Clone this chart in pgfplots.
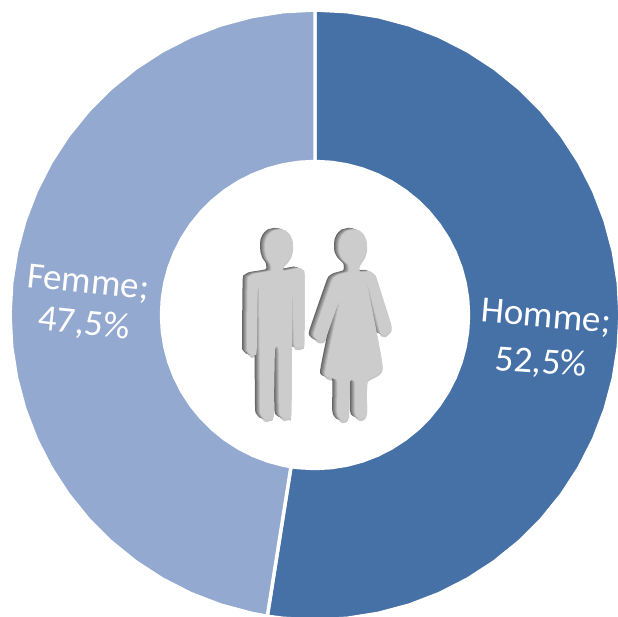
\documentclass[border=0pt]{standalone}
\usepackage{pgfplots}
\pgfplotsset{compat=1.18}
\usepackage{pgfplotstable}
\usepackage{fontspec}
\setmainfont{Carlito}
\definecolor{homme}{HTML}{4571A7}
\definecolor{femme}{HTML}{94A9D0}

% silhouettes, in pixels of a 570x660 box
\pgfplotstableread{
x y
178 58
195 61
209 73
218 93
219 115
214 135
203 152
192 163
191 182
236 174
250 180
254 197
253 398
247 410
235 413
222 402
217 240
214 606
206 622
194 626
182 618
178 600
176 420
165 420
161 612
150 626
135 628
124 616
120 590
117 245
113 245
110 425
103 434
94 436
84 426
81 410
83 212
90 198
102 191
152 182
152 163
142 148
136 128
136 95
144 76
158 63
178 58
}\man
\pgfplotstableread{
x y
400 58
417 61
431 73
440 93
441 115
436 135
425 152
418 165
420 185
450 184
465 195
470 205
514 345
510 362
497 374
485 372
478 360
440 215
488 470
443 510
441 606
433 622
422 626
410 620
405 606
404 515
390 515
387 615
378 630
366 632
355 620
351 600
351 510
315 490
358 275
320 378
310 392
296 392
284 382
283 365
335 215
345 200
358 193
385 185
385 165
368 148
358 128
358 95
366 76
380 63
400 58
}\woman

\newcommand{\figlayer}[3]{%
  \addplot[fill=#1,draw=none,smooth,tension=0.3,xshift=#2,yshift=#3] table {\man};
  \addplot[fill=#1,draw=none,smooth,tension=0.3,xshift=#2,yshift=#3] table {\woman};
}

\begin{document}
\begin{tikzpicture}
\path[use as bounding box] (0,0) rectangle (618bp,617bp);
\begin{axis}[
  at={(0,0)}, anchor=south west,
  width=618bp, height=617bp, scale only axis,
  xmin=-315, xmax=303, ymin=-302, ymax=315,
  hide axis, clip=false,
]
% 52,5 % -> 189 degrees, 47,5 % -> 171 degrees, clockwise from the top
\addplot[data cs=polar, fill=homme, draw=white, line width=3.5pt, line join=miter] coordinates {
(90,305) (84,305) (78,305) (72,305) (66,305) (60,305) (54,305) (48,305) (42,305) (36,305) (30,305)
(24,305) (18,305) (12,305) (6,305) (0,305) (-6,305) (-12,305) (-18,305) (-24,305) (-30,305)
(-36,305) (-42,305) (-48,305) (-54,305) (-60,305) (-66,305) (-72,305) (-78,305) (-84,305) (-90,305) (-96,305) (-99,305)
(-99,153.5) (-96,153.5) (-90,153.5) (-84,153.5) (-78,153.5) (-72,153.5) (-66,153.5) (-60,153.5) (-54,153.5) (-48,153.5) (-42,153.5)
(-36,153.5) (-30,153.5) (-24,153.5) (-18,153.5) (-12,153.5) (-6,153.5) (0,153.5) (6,153.5) (12,153.5) (18,153.5) (24,153.5)
(30,153.5) (36,153.5) (42,153.5) (48,153.5) (54,153.5) (60,153.5) (66,153.5) (72,153.5) (78,153.5) (84,153.5) (90,153.5) (90,305)
};
\addplot[data cs=polar, fill=femme, draw=white, line width=3.5pt, line join=miter] coordinates {
(-99,305) (-102,305) (-108,305) (-114,305) (-120,305) (-126,305) (-132,305) (-138,305) (-144,305) (-150,305)
(-156,305) (-162,305) (-168,305) (-174,305) (-180,305) (-186,305) (-192,305) (-198,305) (-204,305) (-210,305)
(-216,305) (-222,305) (-228,305) (-234,305) (-240,305) (-246,305) (-252,305) (-258,305) (-264,305) (-270,305)
(-270,153.5) (-264,153.5) (-258,153.5) (-252,153.5) (-246,153.5) (-240,153.5) (-234,153.5) (-228,153.5) (-222,153.5) (-216,153.5)
(-210,153.5) (-204,153.5) (-198,153.5) (-192,153.5) (-186,153.5) (-180,153.5) (-174,153.5) (-168,153.5) (-162,153.5) (-156,153.5)
(-150,153.5) (-144,153.5) (-138,153.5) (-132,153.5) (-126,153.5) (-120,153.5) (-114,153.5) (-108,153.5) (-102,153.5) (-99,153.5) (-99,305)
};
\node[text=white,font=\fontsize{37bp}{37bp}\selectfont,rotate=-5,inner sep=0pt] at (axis cs:231,-3) {Homme;};
\node[text=white,font=\fontsize{37bp}{37bp}\selectfont,rotate=-4,inner sep=0pt] at (axis cs:226,-48) {52,5\%};
\node[text=white,font=\fontsize{37bp}{37bp}\selectfont,rotate=-6,inner sep=0pt] at (axis cs:-227,31) {Femme;};
\node[text=white,font=\fontsize{37bp}{37bp}\selectfont,rotate=-6,inner sep=0pt] at (axis cs:-231,-9) {47,5\%};
\end{axis}

\begin{axis}[
  at={(220bp,187bp)}, anchor=south west,
  width=190bp, height=220bp, scale only axis,
  xmin=0, xmax=570, ymin=0, ymax=660, y dir=reverse,
  hide axis, clip=false,
]
\figlayer{black!22}{0bp}{-2.5bp}
\figlayer{black!60}{-5bp}{1.5bp}
\figlayer{black!52}{-4bp}{1.2bp}
\figlayer{black!44}{-3bp}{0.8bp}
\figlayer{black!36}{-2bp}{0.4bp}
\figlayer{black!28}{-1bp}{0.1bp}
\figlayer{black!20}{0bp}{0bp}
\end{axis}
\end{tikzpicture}
\end{document}
